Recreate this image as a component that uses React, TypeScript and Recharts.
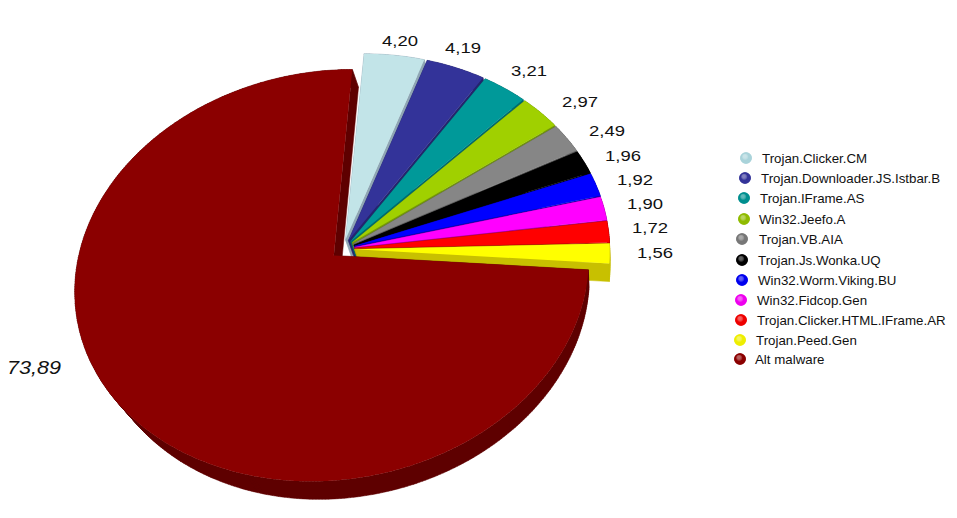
import React from 'react';
import { PieChart, Pie, Cell, Legend } from 'recharts';

const categories = [
  'Trojan.Clicker.CM',
  'Trojan.Downloader.JS.Istbar.B',
  'Trojan.IFrame.AS',
  'Win32.Jeefo.A',
  'Trojan.VB.AIA',
  'Trojan.Js.Wonka.UQ',
  'Win32.Worm.Viking.BU',
  'Win32.Fidcop.Gen',
  'Trojan.Clicker.HTML.IFrame.AR',
  'Trojan.Peed.Gen',
  'Alt malware',
];
const shares = [4.2, 4.19, 3.21, 2.97, 2.49, 1.96, 1.92, 1.9, 1.72, 1.56, 73.89];

const tops = ['#c2e4e8', '#333399', '#009999', '#a0d000', '#868686', '#000000', '#0000ff', '#ff00ff', '#ff0000', '#ffff00', '#8b0000'];
const walls = ['#8fa6b4', '#24246e', '#006c6c', '#74970a', '#5f5f5f', '#000000', '#0000b0', '#b000b0', '#b00000', '#c8c000', '#5e0000'];
const legendDots = ['#a9d3da', '#333399', '#008f8f', '#8fbb00', '#777777', '#000000', '#0000ee', '#ee00ee', '#ee0000', '#eeee00', '#8b0000'];

// label centres, the original places them by hand
const labelAt = [
  [400, 40], [463, 47], [529, 70], [580, 101], [607, 130], [623, 155],
  [635, 179], [645, 203], [650, 227], [655, 252], [34, 368],
];
// legend rows lean to the left going down
const legendX = [746, 745, 744, 744, 742, 742, 742, 741, 741, 740, 740];
const legendTextX = [762, 761, 760, 759, 759, 758, 758, 757, 757, 756, 755];
const legendY = [158, 178, 198, 219, 239, 260, 280, 300, 320, 340, 359];

const data = categories.map((name, i) => ({ name, value: shares[i] }));

const WIDTH = 957;
const HEIGHT = 518;
const CX = 343;
const CY = 249;
const RADIUS = 255;
const SQUASH = 0.8; // ry / rx
const PERSPECTIVE = 0.097;
const SHEAR = 0.08;
const EXPLODE = 0.046;

// unit disc -> screen offset from the pie centre, tilted plate look
const project = (u: number, v: number, r: number) => {
  const w = 1 / (1 + PERSPECTIVE * v);
  return [r * (u + SHEAR * v) * w, -r * SQUASH * v * w];
};

// the plate drops down and inwards: most sideways at the left, none at the far right
const drop = (x: number, y: number) => {
  const dx = x < 355 ? 6 + 0.042 * (355 - x) : 6 * (1 - Math.min(1, (x - 355) / 255));
  return [x + dx, y + 18];
};

const toPath = (pts: number[][]) => 'M' + pts.map((p) => p[0].toFixed(1) + ',' + p[1].toFixed(1)).join('L') + 'Z';

// all quads wound the same way, otherwise overlaps cancel out under nonzero fill
const quadPath = (a: number[], b: number[], c: number[], d: number[]) => {
  const pts = [a, b, c, d];
  let area = 0;
  pts.forEach((p, i) => {
    const q = pts[(i + 1) % 4];
    area += p[0] * q[1] - q[0] * p[1];
  });
  return toPath(area < 0 ? pts.reverse() : pts);
};

const PlateSector = (props: any) => {
  const { cx, cy, outerRadius, startAngle, endAngle, index } = props;
  const mid = ((startAngle + endAngle) / 2) * (Math.PI / 180);
  const off = project(EXPLODE * Math.cos(mid), EXPLODE * Math.sin(mid), outerRadius);
  const ox = cx + off[0];
  const oy = cy + off[1];

  const pts: number[][] = [[ox, oy]];
  const steps = Math.max(6, Math.ceil(Math.abs(endAngle - startAngle) * 1.5));
  for (let i = 0; i <= steps; i++) {
    const a = (startAngle + ((endAngle - startAngle) * i) / steps) * (Math.PI / 180);
    const p = project(Math.cos(a), Math.sin(a), outerRadius);
    pts.push([ox + p[0], oy + p[1]]);
  }

  let wallPath = '';
  pts.forEach((p, i) => {
    const q = pts[(i + 1) % pts.length];
    wallPath += quadPath(p, q, drop(q[0], q[1]), drop(p[0], p[1]));
  });

  return (
    <g>
      <path d={wallPath} fill={walls[index]} stroke={walls[index]} strokeWidth={0.5} />
      <path d={toPath(pts)} fill={tops[index]} />
    </g>
  );
};

const renderLabel = (props: any) => {
  const { index } = props;
  const big = index === categories.length - 1;
  return (
    <text
      x={labelAt[index][0]}
      y={labelAt[index][1]}
      textAnchor="middle"
      dominantBaseline="central"
      fontFamily="Liberation Sans"
      fontSize={big ? 18 : 15}
      fontStyle={big ? 'italic' : 'normal'}
      fill="#111"
      textLength={big ? 54 : 36}
      lengthAdjust="spacingAndGlyphs"
    >
      {shares[index].toFixed(2).replace('.', ',')}
    </text>
  );
};

const renderLegend = () => (
  <svg width={WIDTH} height={HEIGHT} style={{ display: 'block' }}>
    <defs>
      {legendDots.map((c, i) => (
        <radialGradient key={i} id={`dot-${i}`} cx="50%" cy="50%" fx="38%" fy="32%" r="65%">
          <stop offset="0%" stopColor="#ffffff" stopOpacity={0.35} />
          <stop offset="45%" stopColor={c} />
          <stop offset="100%" stopColor={c} />
        </radialGradient>
      ))}
    </defs>
    {categories.map((name, i) => (
      <g key={name}>
        <circle cx={legendX[i]} cy={legendY[i]} r={5.8} fill={legendDots[i]} />
        <circle cx={legendX[i]} cy={legendY[i]} r={5.8} fill={`url(#dot-${i})`} />
        <text x={legendTextX[i]} y={legendY[i] + 4.5} fontFamily="Liberation Sans" fontSize={13.3} fill="#111">
          {name}
        </text>
      </g>
    ))}
  </svg>
);

export default function App() {
  return (
    <div style={{ position: 'absolute', left: 0, top: 0, width: WIDTH, height: HEIGHT, background: '#fff' }}>
      <PieChart width={WIDTH} height={HEIGHT} margin={{ top: 0, right: 0, bottom: 0, left: 0 }}>
        <Pie
          data={data}
          dataKey="value"
          nameKey="name"
          cx={CX}
          cy={CY}
          innerRadius={0}
          outerRadius={RADIUS}
          startAngle={90}
          endAngle={-270}
          stroke="none"
          shape={PlateSector}
          label={renderLabel}
          labelLine={false}
          isAnimationActive={false}
        >
          {data.map((d, i) => (
            <Cell key={d.name} fill={tops[i]} />
          ))}
        </Pie>
        <Legend
          content={renderLegend}
          wrapperStyle={{ position: 'absolute', left: 0, top: 0, width: WIDTH, height: HEIGHT, pointerEvents: 'none' }}
        />
      </PieChart>
    </div>
  );
}
